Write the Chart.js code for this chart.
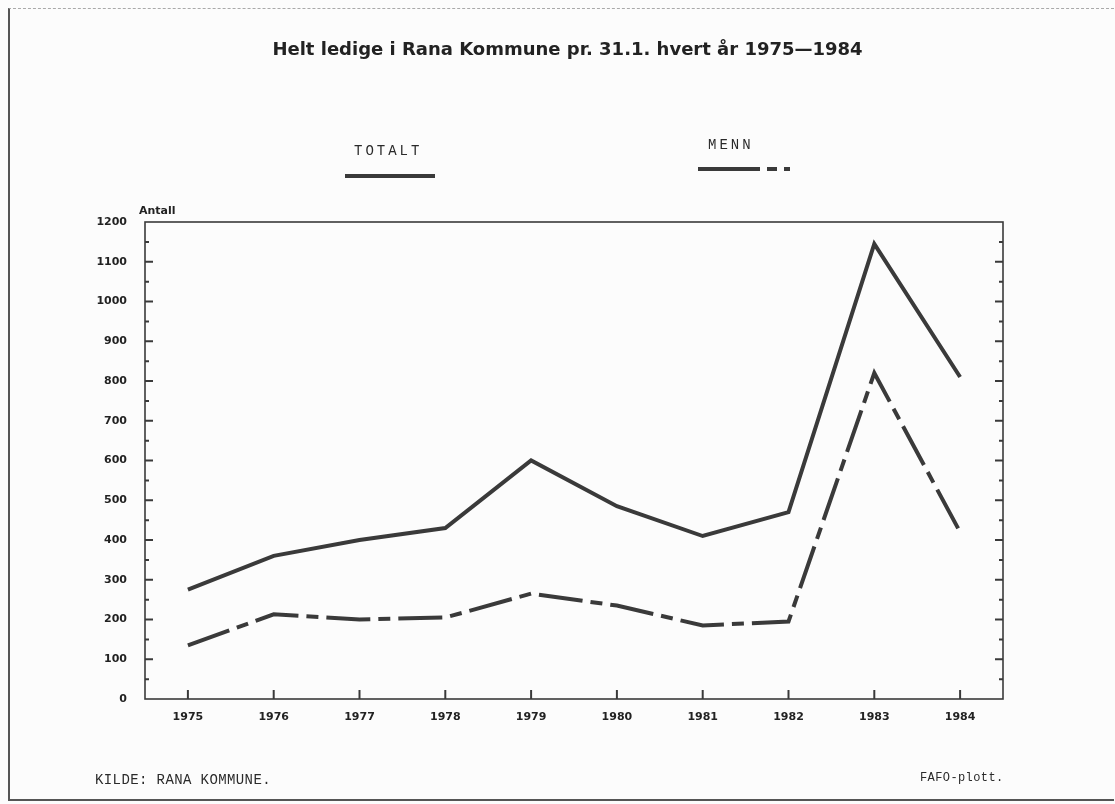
<!DOCTYPE html>
<html lang="no">
<head>
    <meta charset="UTF-8">
    <title>Helt ledige i Rana Kommune 1975-1984</title>
    <style>
        body {
            margin: 0;
            background-color: #fcfcfc;
        }
        #wrap {
            position: relative;
            width: 1115px;
            height: 804px;
            overflow: hidden;
        }
        #page {
            position: absolute;
            left: 8px;
            top: 8px;
            width: 1104px;
            height: 790px;
            border-left: 2px solid #555;
            border-bottom: 2px solid #555;
            border-top: 1px dashed #aaa;
        }
        .mono {
            position: absolute;
            font-family: "Liberation Mono", monospace;
            color: #2a2a2a;
            white-space: nowrap;
        }
        .legtext {
            font-size: 14px;
            letter-spacing: 3px;
        }
        .foot {
            font-size: 14px;
            letter-spacing: 0.4px;
        }
        .seg {
            position: absolute;
            height: 4px;
            background: #3a3a3a;
        }
        #antall {
            position: absolute;
            left: 139px;
            top: 204px;
            font-family: "DejaVu Sans", sans-serif;
            font-weight: bold;
            font-size: 11px;
            color: #222;
        }
        canvas {
            position: absolute;
            left: 0;
            top: 0;
        }
    </style>
    <script src="https://cdn.jsdelivr.net/npm/chart.js"></script>
</head>
<body>
<div id="wrap">
    <div id="page"></div>
    <canvas id="myChart" width="1115" height="804"></canvas>

    <div class="mono legtext" style="left:354px; top:143px;">TOTALT</div>
    <div class="seg" style="left:345px; top:174px; width:90px;"></div>

    <div class="mono legtext" style="left:708px; top:137px;">MENN</div>
    <div class="seg" style="left:698px; top:167px; width:62px;"></div>
    <div class="seg" style="left:767px; top:167px; width:10px;"></div>
    <div class="seg" style="left:784px; top:167px; width:6px;"></div>

    <div id="antall">Antall</div>

    <div class="mono foot" style="left:95px; top:772px;">KILDE: RANA KOMMUNE.</div>
    <div class="mono foot" style="left:920px; top:771px; font-size:12px;">FAFO-plott.</div>
</div>

<script>
    // data
    const years = ['1975', '1976', '1977', '1978', '1979', '1980', '1981', '1982', '1983', '1984'];
    const totalt = [275, 360, 400, 430, 600, 485, 410, 470, 1145, 810];
    const menn = [135, 213, 200, 205, 265, 235, 185, 195, 820, 420];
    const yMax = 1200;
    const yStep = 100;

    const ink = '#3a3a3a';

    // frame and inward tick marks, like the old plotter output
    const plotterTicks = {
        id: 'plotterTicks',
        afterDraw(chart) {
            const ctx = chart.ctx;
            const area = chart.chartArea;
            const x = chart.scales.x;
            const y = chart.scales.y;
            ctx.save();
            ctx.strokeStyle = ink;
            ctx.lineWidth = 1.6;
            ctx.strokeRect(area.left, area.top, area.right - area.left, area.bottom - area.top);

            ctx.lineWidth = 2;
            x.ticks.forEach((t, i) => {
                const px = x.getPixelForTick(i);
                ctx.beginPath();
                ctx.moveTo(px, area.bottom);
                ctx.lineTo(px, area.bottom - 9);
                ctx.stroke();
            });

            for (let v = yStep / 2; v < yMax; v += yStep / 2) {
                const py = y.getPixelForValue(v);
                const len = v % yStep === 0 ? 8 : 4;
                ctx.beginPath();
                ctx.moveTo(area.left, py);
                ctx.lineTo(area.left + len, py);
                ctx.moveTo(area.right, py);
                ctx.lineTo(area.right - len, py);
                ctx.stroke();
            }
            ctx.restore();
        }
    };

    const ctx = document.getElementById('myChart').getContext('2d');
    const myChart = new Chart(ctx, {
        type: 'line',
        data: {
            labels: years,
            datasets: [
                {
                    label: 'TOTALT',
                    data: totalt,
                    borderColor: ink,
                    borderWidth: 4,
                    pointRadius: 0,
                    tension: 0,
                    borderJoinStyle: 'miter'
                },
                {
                    label: 'MENN',
                    data: menn,
                    borderColor: ink,
                    borderWidth: 4,
                    borderDash: [44, 8, 12, 8],
                    pointRadius: 0,
                    tension: 0,
                    borderJoinStyle: 'miter'
                }
            ]
        },
        options: {
            responsive: false,
            animation: false,
            devicePixelRatio: 1,
            layout: {
                padding: { left: 20, right: 0, top: 0, bottom: 75 }
            },
            plugins: {
                legend: { display: false },
                tooltip: { enabled: false },
                title: {
                    display: true,
                    text: 'Helt ledige i Rana Kommune pr. 31.1. hvert år 1975—1984',
                    color: '#222',
                    font: { family: 'DejaVu Sans', weight: 'bold', size: 18, lineHeight: 1.2 },
                    padding: { top: 40, bottom: 160.4 }
                }
            },
            scales: {
                x: {
                    offset: true,
                    grid: { display: false },
                    border: { display: false },
                    ticks: {
                        color: '#222',
                        font: { family: 'DejaVu Sans', weight: 'bold', size: 11 },
                        padding: 4,
                        maxRotation: 0,
                        autoSkip: false
                    },
                    afterFit(scale) { scale.height = 30; }
                },
                y: {
                    min: 0,
                    max: yMax,
                    grid: { display: false },
                    border: { display: false },
                    ticks: {
                        stepSize: yStep,
                        color: '#222',
                        font: { family: 'DejaVu Sans', weight: 'bold', size: 11 },
                        padding: 10,
                        callback: (v) => String(v)
                    },
                    afterFit(scale) { scale.width = 125; }
                },
                y2: {
                    position: 'right',
                    min: 0,
                    max: yMax,
                    grid: { display: false },
                    border: { display: false },
                    ticks: { display: false },
                    afterFit(scale) { scale.width = 112; }
                }
            }
        },
        plugins: [plotterTicks]
    });
</script>
</body>
</html>
